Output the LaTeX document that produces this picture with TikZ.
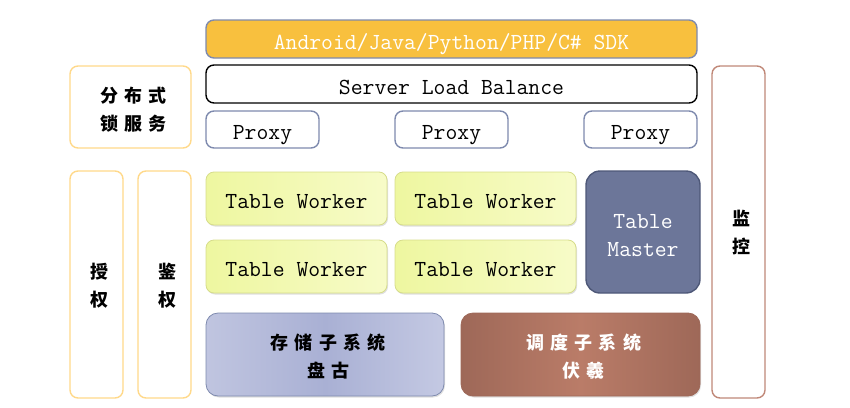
\documentclass[tikz,border=0pt]{standalone}
\usepackage{fontspec}
\newfontfamily\cjk[LetterSpace=35]{Noto Sans CJK SC}
\usetikzlibrary{shadows}
\definecolor{sdkfill}{HTML}{F8C03E}
\definecolor{boxedge}{HTML}{7E8AAE}
\definecolor{lockedge}{HTML}{FFD98A}
\definecolor{monedge}{HTML}{C08878}
\definecolor{twedge}{HTML}{D6DC8A}
\definecolor{twA}{HTML}{EEF7A0}
\definecolor{twB}{HTML}{F7FBC8}
\definecolor{tmfill}{HTML}{6C7699}
\definecolor{tmedge}{HTML}{4E5878}
\definecolor{stA}{HTML}{C0C5E0}
\definecolor{stB}{HTML}{A9B0D4}
\definecolor{stC}{HTML}{C4C9E3}
\definecolor{scA}{HTML}{9E6858}
\definecolor{scB}{HTML}{BA7C68}
\newcommand\cjkline[1]{\hspace*{6.3pt}#1}
\newcommand\shiftedlines[2]{\raisebox{#1}[0pt][0pt]{\begin{tabular}{@{}c@{}}#2\end{tabular}}}
\tikzset{
  base/.style={rounded corners=8pt, line width=1.4pt, inner sep=0pt, align=center},
  latin/.style={font=\ttfamily\fontsize{23}{28}\selectfont, text height=20pt, text depth=0pt},
  cn/.style={font=\cjk\bfseries\fontsize{18}{28}\selectfont},
  sdkbox/.style={base, latin, fill=sdkfill, draw=boxedge, text=white},
  slbbox/.style={base, latin, fill=white, draw=black},
  proxybox/.style={base, latin, fill=white, draw=boxedge},
  lockbox/.style={base, cn, fill=white, draw=lockedge},
  monbox/.style={base, cn, fill=white, draw=monedge},
  twbox/.style={base, latin, draw=twedge, line width=0.8pt, left color=twA, right color=twB,
     drop shadow={shadow xshift=1pt, shadow yshift=-1.5pt, opacity=0.25}},
  tmbox/.style={base, font=\ttfamily\fontsize{23}{28}\selectfont, rounded corners=14pt, fill=tmfill, draw=tmedge, text=white},
  stbox/.style={base, cn, rounded corners=12pt, draw=boxedge, line width=0.8pt, left color=stA, right color=stC, middle color=stB,
     drop shadow={shadow xshift=1pt, shadow yshift=-1.5pt, opacity=0.25}},
  scbox/.style={base, cn, rounded corners=12pt, draw=scA, line width=0.8pt, left color=scA, right color=scA, middle color=scB, text=white,
     drop shadow={shadow xshift=1pt, shadow yshift=-1.5pt, opacity=0.25}},
}
\begin{document}
\begin{tikzpicture}[x=1pt, y=-1pt]
\useasboundingbox (0,0) rectangle (850,407);
\node[sdkbox, minimum width=491pt, minimum height=38pt] (sdk) at (451.5,39) {Android/Java/Python/PHP/C\# SDK};
\node[slbbox, minimum width=491pt, minimum height=38pt] (slb) at (451.5,84) {Server Load Balance};
\node[proxybox, minimum width=113pt, minimum height=37pt] (p1) at (262.5,129.5) {Proxy};
\node[proxybox, minimum width=113pt, minimum height=37pt] (p2) at (451.5,129.5) {Proxy};
\node[proxybox, minimum width=113pt, minimum height=37pt] (p3) at (640.5,129.5) {Proxy};
\node[lockbox, minimum width=121pt, minimum height=82pt] (lock) at (130.5,107) {\shiftedlines{-8pt}{\cjkline{分布式}\\\cjkline{锁服务}}};
\node[lockbox, minimum width=53pt, minimum height=227pt] (auth) at (96.5,284.5) {\shiftedlines{-6.5pt}{\cjkline{授}\\\cjkline{权}}};
\node[lockbox, minimum width=53pt, minimum height=227pt] (authn) at (164.5,284.5) {\shiftedlines{-6.5pt}{\cjkline{鉴}\\\cjkline{权}}};
\node[twbox, minimum width=181pt, minimum height=53pt] (tw1) at (296.5,198.5) {Table Worker};
\node[twbox, minimum width=181pt, minimum height=53pt] (tw2) at (485.5,198.5) {Table Worker};
\node[twbox, minimum width=181pt, minimum height=53pt] (tw3) at (296.5,266.5) {Table Worker};
\node[twbox, minimum width=181pt, minimum height=53pt] (tw4) at (485.5,266.5) {Table Worker};
\node[tmbox, minimum width=114pt, minimum height=122pt] (tm) at (643,232) {\shiftedlines{-10.75pt}{Table\\Master}};
\node[stbox, minimum width=238pt, minimum height=83pt] (st) at (325,354.5) {\shiftedlines{-7.5pt}{\cjkline{存储子系统}\\\cjkline{盘古}}};
\node[scbox, minimum width=239pt, minimum height=83pt] (sc) at (580.5,354.5) {\shiftedlines{-7.5pt}{\cjkline{调度子系统}\\\cjkline{伏羲}}};
\node[monbox, minimum width=53pt, minimum height=332pt] (mon) at (738.5,232) {\shiftedlines{-6.5pt}{\cjkline{监}\\\cjkline{控}}};
\end{tikzpicture}
\end{document}
